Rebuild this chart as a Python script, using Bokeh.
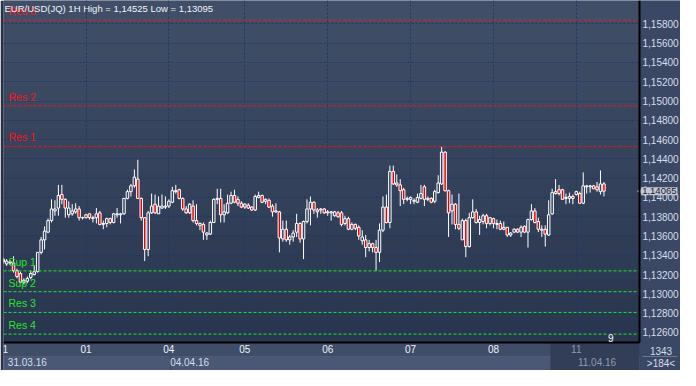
from bokeh.plotting import figure
from bokeh.models import (ColumnDataSource, Range1d, FixedTicker, CustomJSTickFormatter,
                          LinearAxis, Label, BoxAnnotation)
from bokeh.core.properties import value
from bokeh.embed import file_html
from bokeh.resources import INLINE
import math

# ---------------- data ----------------
symbol = "EUR/USD(JQ)"
timeframe = "1H"
day_labels = ["1", "01", "04", "05", "06", "07", "08", "11"]
day_counts = [24, 24, 22, 24, 24, 24, 24, 9]
date_labels = ["31.03.16", "04.04.16", "11.04.16"]
date_label_pos = [7, 54, 172]
price_ticks = [1.126, 1.128, 1.130, 1.132, 1.134, 1.136, 1.138, 1.140, 1.142,
               1.144, 1.146, 1.148, 1.150, 1.152, 1.154, 1.156, 1.158]

level_names = ["Res 3", "Res 2", "Res 1", "Sup 1", "Sup 2", "Res 3", "Res 4"]
level_values = [1.15838, 1.14950, 1.14530, 1.13238, 1.13022, 1.12807, 1.12582]
level_colors = ["#ff1010", "#ff1010", "#ff1010", "#22e822", "#22e822", "#22e822", "#22e822"]

opens = [
    1.1333, 1.1331, 1.1333, 1.1332, 1.1324, 1.1321, 1.1312, 1.1313, 1.1317, 1.1320, 1.1323, 1.1343,
    1.1356, 1.1364, 1.1376, 1.1386, 1.1389, 1.1403, 1.1398, 1.1382, 1.1383, 1.1385, 1.1388, 1.1379,
    1.1379, 1.1383, 1.1379, 1.1379, 1.1384, 1.1372, 1.1373, 1.1378, 1.1374, 1.1382, 1.1382, 1.1383,
    1.1399, 1.1406, 1.1412, 1.1419, 1.1399, 1.1379, 1.1346, 1.1384, 1.1393, 1.1383, 1.1389, 1.1390,
    1.1391, 1.1395, 1.1406, 1.1408, 1.1399, 1.1388, 1.1384, 1.1391, 1.1376, 1.1373, 1.1372, 1.1361,
    1.1362, 1.1374, 1.1398, 1.1399, 1.1382, 1.1384, 1.1394, 1.1402, 1.1398, 1.1394,
    1.1390, 1.1392, 1.1390, 1.1387, 1.1400, 1.1402, 1.1396, 1.1397, 1.1391, 1.1385, 1.1385, 1.1357,
    1.1367, 1.1356, 1.1359, 1.1364, 1.1373, 1.1357, 1.1375, 1.1388, 1.1395, 1.1387, 1.1387, 1.1388,
    1.1385, 1.1384, 1.1381, 1.1384, 1.1384, 1.1373, 1.1378, 1.1367, 1.1372, 1.1369, 1.1355, 1.1356,
    1.1348, 1.1352, 1.1348, 1.1343, 1.1366, 1.1390, 1.1374, 1.1427, 1.1415, 1.1413, 1.1408, 1.1398,
    1.1398, 1.1397, 1.1395, 1.1399, 1.1411, 1.1398, 1.1399, 1.1396, 1.1405, 1.1414, 1.1447, 1.1407,
    1.1386, 1.1393, 1.1372, 1.1356, 1.1376, 1.1349, 1.1379, 1.1385, 1.1374, 1.1375, 1.1381, 1.1373,
    1.1378, 1.1372, 1.1373, 1.1367, 1.1369, 1.1361, 1.1364, 1.1367, 1.1364, 1.1370, 1.1364, 1.1377,
    1.1386, 1.1375, 1.1366, 1.1367, 1.1361, 1.1383, 1.1404, 1.1408, 1.1408, 1.1399, 1.1399, 1.1401,
    1.1403, 1.1404, 1.1394, 1.1411, 1.1411, 1.1412, 1.1411, 1.1406, 1.1414,
]
highs = [
    1.1338, 1.1336, 1.1335, 1.1339, 1.1326, 1.1323, 1.1316, 1.1318, 1.1324, 1.1329, 1.1343, 1.1359,
    1.1370, 1.1378, 1.1398, 1.1397, 1.1413, 1.1413, 1.1399, 1.1396, 1.1393, 1.1394, 1.1391, 1.1380,
    1.1383, 1.1383, 1.1381, 1.1389, 1.1386, 1.1376, 1.1379, 1.1379, 1.1384, 1.1389, 1.1384, 1.1399,
    1.1408, 1.1414, 1.1429, 1.1439, 1.1400, 1.1379, 1.1386, 1.1404, 1.1403, 1.1401, 1.1403, 1.1401,
    1.1398, 1.1411, 1.1413, 1.1409, 1.1400, 1.1391, 1.1394, 1.1397, 1.1393, 1.1374, 1.1374, 1.1364,
    1.1376, 1.1399, 1.1409, 1.1409, 1.1393, 1.1403, 1.1406, 1.1408, 1.1401, 1.1396,
    1.1394, 1.1394, 1.1391, 1.1403, 1.1406, 1.1403, 1.1399, 1.1399, 1.1393, 1.1394, 1.1386, 1.1376,
    1.1376, 1.1361, 1.1366, 1.1383, 1.1374, 1.1376, 1.1398, 1.1401, 1.1396, 1.1389, 1.1389, 1.1389,
    1.1387, 1.1386, 1.1386, 1.1386, 1.1386, 1.1381, 1.1380, 1.1374, 1.1373, 1.1371, 1.1366, 1.1361,
    1.1356, 1.1353, 1.1356, 1.1373, 1.1401, 1.1403, 1.1433, 1.1433, 1.1424, 1.1419, 1.1410, 1.1401,
    1.1401, 1.1399, 1.1404, 1.1413, 1.1413, 1.1401, 1.1400, 1.1408, 1.1423, 1.14525, 1.1448, 1.1408,
    1.1403, 1.1394, 1.1404, 1.1378, 1.1378, 1.1384, 1.1398, 1.1388, 1.1381, 1.1383, 1.1383, 1.1379,
    1.1379, 1.1377, 1.1376, 1.1375, 1.1369, 1.1364, 1.1368, 1.1368, 1.1371, 1.1371, 1.1378, 1.1393,
    1.1389, 1.1379, 1.1371, 1.1371, 1.1397, 1.1409, 1.1419, 1.1413, 1.1409, 1.1404, 1.1405, 1.1403,
    1.1407, 1.1406, 1.1426, 1.1413, 1.1413, 1.1413, 1.1416, 1.1428, 1.1416,
]
lows = [
    1.1331, 1.1329, 1.1330, 1.1322, 1.1316, 1.1311, 1.13095, 1.1311, 1.1315, 1.1319, 1.1322, 1.1341,
    1.1346, 1.1363, 1.1374, 1.1381, 1.1381, 1.1393, 1.1379, 1.1379, 1.1381, 1.1383, 1.1376, 1.1377,
    1.1378, 1.1377, 1.1374, 1.1373, 1.1371, 1.1367, 1.1369, 1.1372, 1.1373, 1.1379, 1.1373, 1.1382,
    1.1398, 1.1401, 1.1410, 1.1399, 1.1376, 1.1334, 1.1339, 1.1383, 1.1383, 1.1383, 1.1388, 1.1388,
    1.1389, 1.1394, 1.1404, 1.1398, 1.1386, 1.1383, 1.1383, 1.1374, 1.1371, 1.1366, 1.1356, 1.1356,
    1.1361, 1.1374, 1.1393, 1.1374, 1.1374, 1.1383, 1.1393, 1.1394, 1.1391, 1.1389,
    1.1388, 1.1388, 1.1386, 1.1386, 1.1399, 1.1394, 1.1393, 1.1389, 1.1380, 1.1384, 1.1343, 1.1354,
    1.1354, 1.1351, 1.1354, 1.1359, 1.1353, 1.1336, 1.1373, 1.1371, 1.1383, 1.1379, 1.1383, 1.1383,
    1.1381, 1.1376, 1.1380, 1.1379, 1.1370, 1.1371, 1.1366, 1.1366, 1.1366, 1.1356, 1.1351, 1.1338,
    1.1344, 1.1343, 1.1324, 1.1333, 1.1364, 1.1373, 1.1368, 1.1413, 1.1411, 1.1391, 1.1393, 1.1396,
    1.1393, 1.1393, 1.1394, 1.1398, 1.1391, 1.1396, 1.1394, 1.1394, 1.1404, 1.1413, 1.1406, 1.1359,
    1.1372, 1.1367, 1.1366, 1.1356, 1.1338, 1.1348, 1.1378, 1.1373, 1.1361, 1.1372, 1.1368, 1.1371,
    1.1368, 1.1367, 1.1366, 1.1366, 1.1359, 1.1359, 1.1363, 1.1363, 1.1359, 1.1363, 1.1348, 1.1376,
    1.1373, 1.1364, 1.1359, 1.1349, 1.1360, 1.1382, 1.1403, 1.1402, 1.1398, 1.1393, 1.1394, 1.1393,
    1.1402, 1.1394, 1.1393, 1.1404, 1.1405, 1.1409, 1.1406, 1.1403, 1.1401,
]
closes = [
    1.1336, 1.1334, 1.1332, 1.1324, 1.1318, 1.1312, 1.1314, 1.1316, 1.1321, 1.1323, 1.1343, 1.1356,
    1.1365, 1.1376, 1.1388, 1.1388, 1.1402, 1.1398, 1.1389, 1.1389, 1.1386, 1.1388, 1.1379, 1.1379,
    1.1382, 1.1379, 1.1378, 1.1383, 1.1372, 1.1373, 1.1378, 1.1374, 1.1383, 1.1383, 1.1383, 1.1399,
    1.1406, 1.1412, 1.1421, 1.1399, 1.1379, 1.1346, 1.1384, 1.1391, 1.1384, 1.1391, 1.1391, 1.1391,
    1.1396, 1.1407, 1.1407, 1.1399, 1.1388, 1.1384, 1.1393, 1.1376, 1.1373, 1.1371, 1.1364, 1.1363,
    1.1374, 1.1398, 1.1399, 1.1382, 1.1385, 1.1394, 1.1402, 1.1395, 1.1394, 1.1390,
    1.1393, 1.1389, 1.1387, 1.1401, 1.1402, 1.1395, 1.1398, 1.1390, 1.1385, 1.1386, 1.1358, 1.1367,
    1.1356, 1.1359, 1.1363, 1.1373, 1.1357, 1.1375, 1.1388, 1.1395, 1.1387, 1.1385, 1.1388, 1.1384,
    1.1384, 1.1385, 1.1385, 1.1380, 1.1372, 1.1378, 1.1367, 1.1372, 1.1368, 1.1360, 1.1359, 1.1348,
    1.1352, 1.1348, 1.1343, 1.1366, 1.1390, 1.1374, 1.1427, 1.1414, 1.1413, 1.1407, 1.1398, 1.1399,
    1.1400, 1.1396, 1.1400, 1.1404, 1.1398, 1.1399, 1.1395, 1.1406, 1.1415, 1.1447, 1.1407, 1.1384,
    1.1393, 1.1372, 1.1368, 1.1376, 1.1349, 1.1379, 1.1385, 1.1374, 1.1377, 1.1381, 1.1373, 1.1379,
    1.1373, 1.1373, 1.1367, 1.1369, 1.1361, 1.1363, 1.1367, 1.1364, 1.1369, 1.1364, 1.1377, 1.1386,
    1.1374, 1.1367, 1.1367, 1.1362, 1.1382, 1.1405, 1.1406, 1.1404, 1.1398, 1.1400, 1.1401, 1.1399,
    1.1406, 1.1394, 1.1412, 1.1412, 1.1412, 1.1409, 1.1408, 1.1414, 1.14065,
]
visible_bars = 184
total_bars_label = "1343"
last_hour_label = "9"

# ---------------- layout / styling ----------------
W, H = 680, 370
LEFT, RIGHT, BOTTOM = 3, 41, 28
CHART_W = W - LEFT - RIGHT          # px of the candle area
CHART_H = H - BOTTOM
X0, X1 = 0.1, visible_bars + 0.3    # visible bar span
Y0, Y1 = 1.12495, 1.16043           # visible price span
BAR_PX = CHART_W / (X1 - X0)
XR_END = X1 + RIGHT / BAR_PX                    # range extended over the price-scale panel
YR_START = Y0 - BOTTOM * (Y1 - Y0) / CHART_H    # range extended over the time-scale panel

BG_TOP = (64, 78, 104)
BG_BOT = (42, 54, 80)
PANEL = "#3a4865"
GRID = "#1d3969"
BEAR_FILL = "#e80000"
TXT = "#d6deea"
DIM_TXT = "#8f99ad"
TAG_FILL = "#c3c8d2"
FONT = "Liberation Sans"
N_BANDS = 16


def fmt(v):
    return ("%.5f" % v).replace(".", ",")


def mix(t):
    return "#%02x%02x%02x" % tuple(int(round(a + (b - a) * t)) for a, b in zip(BG_TOP, BG_BOT))


n = len(opens)
idx = list(range(n))
day_starts = []
s = 0
for c in day_counts:
    day_starts.append(s)
    s += c

fills = []
for o, c in zip(opens, closes):
    y_frac = (Y1 - max(o, c)) / (Y1 - Y0)
    fills.append(mix(y_frac) if c >= o else BEAR_FILL)

src = ColumnDataSource(dict(
    x=idx, o=opens, h=highs, l=lows, c=closes,
    top=[max(a, b) for a, b in zip(opens, closes)],
    bottom=[min(a, b) for a, b in zip(opens, closes)],
    fill=fills,
))

p = figure(width=W, height=H,
           x_range=Range1d(X0, XR_END), y_range=Range1d(YR_START, Y1),
           output_backend="svg", toolbar_location=None,
           x_axis_location=None, y_axis_location=None,
           min_border_left=LEFT, min_border_right=0,
           min_border_top=0, min_border_bottom=0,
           background_fill_color=PANEL, border_fill_color="#2a3346",
           outline_line_color=None)


def box(**kw):
    d = dict(fill_alpha=1.0, line_color=None, left_units="canvas", right_units="canvas",
             top_units="canvas", bottom_units="canvas")
    d.update(kw)
    p.add_layout(BoxAnnotation(**d))


# vertical gradient behind the candle area
for k in range(N_BANDS):
    box(left=LEFT, right=LEFT + CHART_W, top=CHART_H * k / N_BANDS,
        bottom=CHART_H * (k + 1) / N_BANDS + 1,
        fill_color=mix(k / (N_BANDS - 1)), level="image")

# grids
p.xgrid.ticker = FixedTicker(ticks=day_starts[1:])
p.ygrid.ticker = FixedTicker(ticks=price_ticks)
for g in (p.xgrid, p.ygrid):
    g.grid_line_color = GRID
    g.grid_line_dash = "2 2"
    g.grid_line_width = 1

# panels (drawn over the grid lines, under the axes)
box(left=LEFT + CHART_W, right=W, top=0, bottom=H, fill_color=PANEL, level="underlay")
box(left=LEFT, right=LEFT + CHART_W, top=CHART_H, bottom=CHART_H + 14,
    fill_color="#3f4d69", level="underlay")
box(left=LEFT, right=LEFT + CHART_W, top=CHART_H + 14, bottom=H,
    fill_color="#4a5875", line_color="#6a7894", line_width=1, level="underlay")
box(left=day_starts[2] + 0.5, right=day_starts[2] + 0.5, top=CHART_H + 14, bottom=H,
    left_units="data", right_units="data",
    fill_color=None, line_color="#2c3a55", line_width=1, level="underlay")
box(left=day_starts[-1] - 7.5, right=LEFT + CHART_W, top=CHART_H, bottom=H,
    left_units="data", fill_color="#323e58", level="underlay")
box(left=LEFT + CHART_W + 3, right=W - 3, top=CHART_H + 14, bottom=CHART_H + 14,
    fill_color=None, line_color="#9aa4b8", line_width=1, level="underlay")


def style_axis(ax, color, standoff, line_color=None, line_width=1):
    ax.major_tick_line_color = None
    ax.minor_tick_line_color = None
    ax.major_tick_out = 0
    ax.major_tick_in = 0
    ax.minor_tick_out = 0
    ax.minor_tick_in = 0
    ax.axis_line_color = line_color
    ax.axis_line_width = line_width
    ax.major_label_standoff = standoff
    ax.major_label_text_font = FONT
    ax.major_label_text_font_size = "10px"
    ax.major_label_text_color = color


# right price scale
ya = LinearAxis(fixed_location=X1, bounds=(Y0, Y1), ticker=FixedTicker(ticks=price_ticks),
                formatter=CustomJSTickFormatter(code="return tick.toFixed(5).replace('.', ',');"))
style_axis(ya, TXT, 3, "black", 2)
p.add_layout(ya, "right")

# time scale: day numbers (first row) and dates (second row)
day_tick_pos = [0.6] + day_starts[1:]
xa = LinearAxis(fixed_location=Y0, bounds=(X0, X1), ticker=FixedTicker(ticks=day_tick_pos[:-1]),
                major_label_overrides={t: lab for t, lab in zip(day_tick_pos, day_labels)})
style_axis(xa, "#eef2f8", 2, "black", 2)
p.add_layout(xa, "below")
xa2 = LinearAxis(fixed_location=Y0, bounds=(X0, X1), ticker=FixedTicker(ticks=day_tick_pos[-1:]),
                 major_label_overrides={day_tick_pos[-1]: day_labels[-1]})
style_axis(xa2, DIM_TXT, 2)
p.add_layout(xa2, "below")

da = LinearAxis(fixed_location=Y0, bounds=(X0, X1), ticker=FixedTicker(ticks=date_label_pos[:-1]),
                major_label_overrides={t: lab for t, lab in zip(date_label_pos, date_labels)})
style_axis(da, TXT, 15)
p.add_layout(da, "below")
da2 = LinearAxis(fixed_location=Y0, bounds=(X0, X1), ticker=FixedTicker(ticks=date_label_pos[-1:]),
                 major_label_overrides={date_label_pos[-1]: date_labels[-1]})
style_axis(da2, DIM_TXT, 15)
p.add_layout(da2, "below")

# candles
p.segment(x0="x", y0="h", x1="x", y1="l", line_color="white", line_width=1, source=src)
p.vbar(x="x", width=0.72, top="top", bottom="bottom", fill_color="fill",
       line_color="white", line_width=1, source=src)

# support / resistance levels
lvl = ColumnDataSource(dict(x0=[X0] * len(level_values), x1=[X1] * len(level_values),
                            y=level_values, t=level_names, c=level_colors))
p.segment(x0="x0", y0="y", x1="x1", y1="y", line_color="c", line_dash="3 2", line_width=1,
          source=lvl)
p.text(x="x0", y="y", text="t", text_color="c", source=lvl, x_offset=5, y_offset=-3,
       text_baseline="bottom", text_font=value(FONT), text_font_size="10.5px")

# header
header = "%s %s High = %s Low = %s" % (symbol, timeframe, fmt(max(highs)), fmt(min(lows)))
p.add_layout(Label(x=LEFT + 1, y=2, x_units="canvas", y_units="canvas", text=header,
                   text_baseline="top", text_color="#f2f4f8", text_font=FONT,
                   text_font_size="9.5px"))

# last bar hour marker
p.add_layout(Label(x=idx[-1], y=CHART_H - 1, y_units="canvas", text=last_hour_label,
                   x_offset=4, text_baseline="bottom", text_color="white", text_font=FONT,
                   text_font_size="10px", background_fill_color="#2c3850"))

# current price tag over the price scale (arrow + box), kept inside the canvas
p.scatter(x=[X1 + 3.5 / BAR_PX], y=[closes[-1]], marker="triangle", size=10,
          angle=math.pi / 2, fill_color=TAG_FILL, line_color="#8a92a4")
p.add_layout(Label(x=W - 3, x_units="canvas", y=closes[-1], text=fmt(closes[-1]),
                   text_align="right", text_baseline="middle", text_color="#1a2233",
                   text_font=FONT, text_font_size="9.5px", background_fill_color=TAG_FILL,
                   border_line_color=None, padding=1))

# bottom-right info box
p.add_layout(Label(x=W - RIGHT / 2 + 1, x_units="canvas", y=CHART_H + 8, y_units="canvas",
                   text=total_bars_label, text_align="center", text_baseline="middle",
                   text_color=TXT, text_font=FONT, text_font_size="10px"))
p.add_layout(Label(x=W - RIGHT / 2 + 1, x_units="canvas", y=CHART_H + 21, y_units="canvas",
                   text=">%d<" % visible_bars, text_align="center", text_baseline="middle",
                   text_color=TXT, text_font=FONT, text_font_size="10px"))

open("out.html", "w").write(file_html(p, INLINE))
